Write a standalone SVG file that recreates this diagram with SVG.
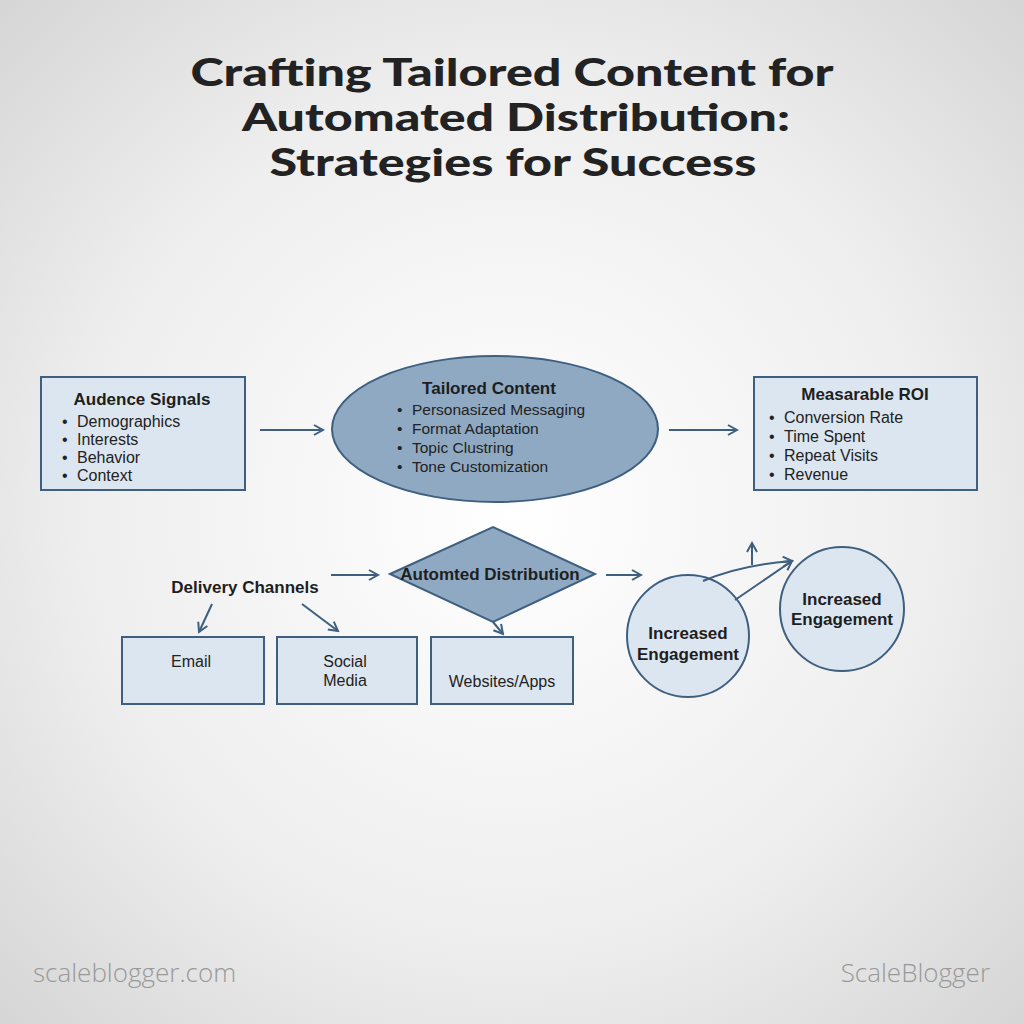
<svg xmlns="http://www.w3.org/2000/svg" width="1024" height="1024" viewBox="0 0 1024 1024">
<defs>
<radialGradient id="bg" cx="50%" cy="50%" r="70%">
<stop offset="0" stop-color="#ffffff"/>
<stop offset="0.6" stop-color="#eeeeee"/>
<stop offset="1" stop-color="#d6d6d6"/>
</radialGradient>
<marker id="ah" viewBox="0 0 12 12" refX="10" refY="6" markerWidth="12" markerHeight="12" markerUnits="userSpaceOnUse" orient="auto">
<path d="M1,1 L10,6 L1,11" fill="none" stroke="#3e5f80" stroke-width="2"/>
</marker>
<style>
.title{font-family:Lato,"Liberation Sans",sans-serif;font-weight:900;font-size:37px;fill:#222;text-anchor:middle}
.box{fill:#dce6f0;stroke:#3e5f80;stroke-width:2}
.dark{fill:#8fa9c2;stroke:#3e5f80;stroke-width:2}
.h{font-family:"Liberation Sans",Arial,sans-serif;font-weight:700;font-size:17px;fill:#1e1e1e;text-anchor:middle}
.t{font-family:"Liberation Sans",Arial,sans-serif;font-size:16px;fill:#222}
.te{font-family:"Liberation Sans",Arial,sans-serif;font-size:15.5px;fill:#222}
.c{font-family:"Liberation Sans",Arial,sans-serif;font-size:16px;fill:#222;text-anchor:middle}
.conn{fill:none;stroke:#3e5f80;stroke-width:2;marker-end:url(#ah)}
.foot{font-family:"Open Sans","Liberation Sans",sans-serif;font-weight:300;font-size:26px;fill:#999}
</style>
</defs>
<rect width="1024" height="1024" fill="url(#bg)"/>
<g id="title">
<text class="title" x="512" y="86" textLength="643" lengthAdjust="spacingAndGlyphs">Crafting Tailored Content for</text>
<text class="title" x="516" y="131" textLength="548" lengthAdjust="spacingAndGlyphs">Automated Distribution:</text>
<text class="title" x="513" y="176" textLength="487" lengthAdjust="spacingAndGlyphs">Strategies for Success</text>
</g>
<g id="audience">
<rect class="box" x="41" y="377" width="204" height="113"/>
<text class="h" x="142" y="405">Audence Signals</text>
<text class="t" y="427"><tspan x="62">•</tspan><tspan x="77">Demographics</tspan></text>
<text class="t" y="445"><tspan x="62">•</tspan><tspan x="77">Interests</tspan></text>
<text class="t" y="463"><tspan x="62">•</tspan><tspan x="77">Behavior</tspan></text>
<text class="t" y="481"><tspan x="62">•</tspan><tspan x="77">Context</tspan></text>
</g>
<g id="tailored">
<ellipse class="dark" cx="495" cy="429" rx="163" ry="73"/>
<text class="h" x="489" y="394">Tailored Content</text>
<text class="te" y="415"><tspan x="397">•</tspan><tspan x="412">Personasized Messaging</tspan></text>
<text class="te" y="434"><tspan x="397">•</tspan><tspan x="412">Format Adaptation</tspan></text>
<text class="te" y="453"><tspan x="397">•</tspan><tspan x="412">Topic Clustring</tspan></text>
<text class="te" y="472"><tspan x="397">•</tspan><tspan x="412">Tone Customization</tspan></text>
</g>
<g id="roi">
<rect class="box" x="754" y="377" width="223" height="113"/>
<text class="h" x="865" y="400">Measarable ROI</text>
<text class="t" y="423"><tspan x="769">•</tspan><tspan x="784">Conversion Rate</tspan></text>
<text class="t" y="442"><tspan x="769">•</tspan><tspan x="784">Time Spent</tspan></text>
<text class="t" y="461"><tspan x="769">•</tspan><tspan x="784">Repeat Visits</tspan></text>
<text class="t" y="480"><tspan x="769">•</tspan><tspan x="784">Revenue</tspan></text>
</g>
<g id="delivery">
<text class="h" x="245" y="593">Delivery Channels</text>
</g>
<g id="automated">
<polygon class="dark" points="390,574 493,527 595,574 493,622"/>
<text class="h" x="490" y="580">Automted Distribution</text>
</g>
<g id="email">
<rect class="box" x="122" y="637" width="142" height="67"/>
<text class="c" x="191" y="667">Email</text>
</g>
<g id="social">
<rect class="box" x="277" y="637" width="140" height="67"/>
<text class="c" x="345" y="667">Social</text>
<text class="c" x="345" y="686">Media</text>
</g>
<g id="websites">
<rect class="box" x="431" y="637" width="142" height="67"/>
<text class="c" x="502" y="687">Websites/Apps</text>
</g>
<g id="engagement1">
<circle class="box" cx="688" cy="636" r="61"/>
<text class="h" x="688" y="639">Increased</text>
<text class="h" x="688" y="660">Engagement</text>
</g>
<g id="engagement2">
<circle class="box" cx="842" cy="609" r="62"/>
<text class="h" x="842" y="605">Increased</text>
<text class="h" x="842" y="625">Engagement</text>
</g>
<g id="connectors">
<path class="conn" d="M260,430 L323,430"/>
<path class="conn" d="M669,430 L737,430"/>
<path class="conn" d="M212,604 L199,632"/>
<path class="conn" d="M302,604 L338,631"/>
<path class="conn" d="M331,575 L378,575"/>
<path class="conn" d="M493,622 L503,634"/>
<path class="conn" d="M606,575 L641,575"/>
<path class="conn" d="M703,581 Q740,565 792,561"/>
<path class="conn" d="M735,600 L792,561"/>
<path class="conn" d="M752,565 L752,543"/>
</g>
<g id="footer">
<text class="foot" x="33" y="982">scaleblogger.com</text>
<text class="foot" x="990" y="982" text-anchor="end">ScaleBlogger</text>
</g>
</svg>
